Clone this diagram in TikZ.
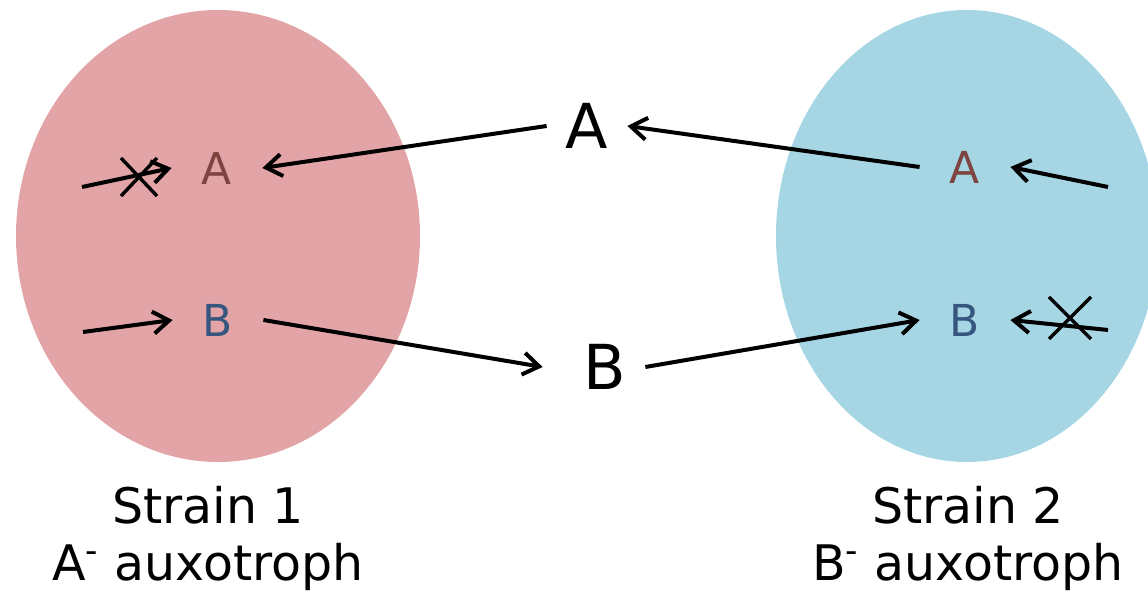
\documentclass[tikz,border=0pt]{standalone}
\usepackage{fontspec}
\setmainfont{DejaVu Sans}
\usetikzlibrary{arrows.meta}
\definecolor{strainred}{HTML}{E2A4A6}
\definecolor{strainblue}{HTML}{A6D6E4}
\definecolor{metA}{HTML}{7D4440}
\definecolor{metB}{HTML}{36557F}

\begin{document}
\begin{tikzpicture}[x=0.5pt,y=-0.5pt,
    flow/.style={line width=2pt,-{Straight Barb[length=8pt,width=11pt]}},
    cut/.style={line width=1.7pt},
    cell/.style={inner sep=0pt,minimum width=45pt,font=\fontsize{22}{26}\selectfont},
    free/.style={inner sep=0pt,minimum width=40pt,font=\fontsize{31}{36}\selectfont},
    strain/.style={align=center,inner sep=0pt,anchor=north,font=\fontsize{24.5}{28.5}\selectfont}]
            \clip (0,0) rectangle (1148,597);
            \fill[strainred] (218,236) ellipse [x radius=202,y radius=226];
            \fill[strainblue] (967,236) ellipse [x radius=191,y radius=226];
            \node[cell,text=metA] (lA) at (217,168) {A};
            \node[cell,text=metB] (lB) at (218,320) {B};
            \node[cell,text=metA] (rA) at (965,167) {A};
            \node[cell,text=metB] (rB) at (965,320) {B};
            \node[free] (mA) at (587,126) {A};
            \node[free] (mB) at (605,367) {B};
            \coordinate (lAin) at (82,187);
            \coordinate (lBin) at (83,332);
            \coordinate (rAin) at (1108,187);
            \coordinate (rBin) at (1108,330);
            \coordinate (lX) at (139,177);
            \coordinate (rX) at (1070,318);
            \draw[flow] (mA.west) -- (lA.east);
            \draw[flow] (rA.west) -- (mA.east);
            \draw[flow] (lB.east) -- ([xshift=-11pt]mB.west);
            \draw[flow] (mB.east) -- (rB.west);
            \draw[flow] (lAin) -- (lA.west);
            \draw[flow] (lBin) -- (lB.west);
            \draw[flow] (rAin) -- (rA.east);
            \draw[flow] (rBin) -- (rB.east);
            \draw[cut] ([shift={(-18,-19)}]lX) -- ([shift={(18,19)}]lX)
                       ([shift={(-18,19)}]lX) -- ([shift={(18,-19)}]lX);
            \draw[cut] ([shift={(-21,-21)}]rX) -- ([shift={(21,21)}]rX)
                       ([shift={(-21,21)}]rX) -- ([shift={(21,-21)}]rX);
            \node[strain] (s1) at (208,486) {Strain 1\\A\textsuperscript{-} auxotroph};
            \node[strain] (s2) at (968,486) {Strain 2\\B\textsuperscript{-} auxotroph};
            \end{tikzpicture}
\end{document}
